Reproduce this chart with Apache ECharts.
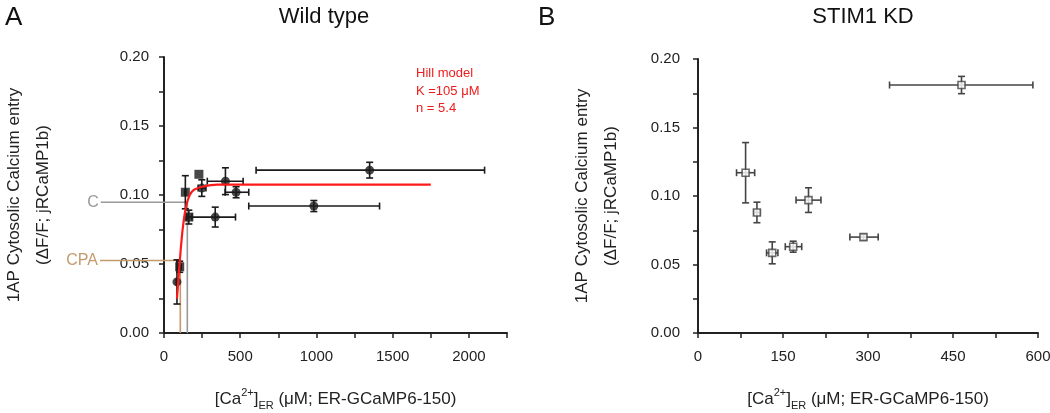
<!DOCTYPE html>
<html>
<head>
<meta charset="utf-8">
<script src="https://cdn.jsdelivr.net/npm/echarts@6/dist/echarts.min.js"></script>
<style>
html,body{margin:0;padding:0;background:#fff;}
#chart{width:1050px;height:413px;}
</style>
</head>
<body>
<div id="chart"></div>
<script>
// ---------- Panel A: Wild type ----------
const wtX    = [85, 103, 140, 163, 229, 248, 336, 403, 473, 983, 1349];
const wtY    = [0.037, 0.048, 0.102, 0.084, 0.115, 0.105, 0.084, 0.110, 0.102, 0.092, 0.118];
const wtXLo  = [80, 93, 136, 145, 229, 224, 150, 284, 401, 556, 604];
const wtXHi  = [90, 113, 144, 183, 229, 275, 469, 519, 556, 1414, 2103];
const wtYErr = [0.016, 0.004, 0.012, 0.005, 0, 0.006, 0.0072, 0.0097, 0.004, 0.004, 0.0057];
const wtShape = ['circle','rect','rect','rect','rect','circle','circle','circle','circle','circle','circle'];

// Hill model curve
const hillX = [85, 90, 95, 100, 105, 110, 115, 120, 130, 140, 150, 165, 180, 200, 250, 350, 1750];
const hillY = [0.025, 0.032, 0.040, 0.047, 0.054, 0.061, 0.067, 0.073, 0.082, 0.089, 0.094, 0.099, 0.102, 0.104, 0.106, 0.1075, 0.1075];

// reference lines C and CPA (x, y)
const refNames = ['C', 'CPA'];
const cLineX = [-415, 153, 153];
const cLineY = [0.0947, 0.0947, 0];
const cpaLineX = [-420, 107, 107];
const cpaLineY = [0.0525, 0.0525, 0];

// ---------- Panel B: STIM1 KD ----------
const kdX    = [84, 104, 131, 168, 195, 292, 465];
const kdY    = [0.117, 0.088, 0.0585, 0.063, 0.097, 0.070, 0.181];
const kdXLo  = [68, 99, 121, 154, 173, 268, 338];
const kdXHi  = [100, 109, 141, 183, 217, 318, 591];
const kdYErr = [0.022, 0.0075, 0.008, 0.004, 0.009, 0.002, 0.0063];

// ticks
const yTickLabels = ['0.00','0.05','0.10','0.15','0.20'];
const xTickLabelsA = ['0','500','1000','1500','2000'];
const xTickLabelsB = ['0','150','300','450','600'];

const FONT = 'Liberation Sans, Arial, sans-serif';
const AXIS_COLOR = '#222';
const refX = [cLineX, cpaLineX];
const refY = [cLineY, cpaLineY];
const refColors = ['#9a9a9a', '#c49a6c'];

function errData(xs, ys, lo, hi, ye) {
  return xs.map((x, i) => [x, ys[i], lo[i], hi[i], ys[i] - ye[i], ys[i] + ye[i]]);
}

function errRender(color) {
  return function (params, api) {
    const x = api.value(0), y = api.value(1);
    const pL = api.coord([api.value(2), y]);
    const pR = api.coord([api.value(3), y]);
    const pB = api.coord([x, api.value(4)]);
    const pT = api.coord([x, api.value(5)]);
    const c = 3.5;
    const st = { stroke: color, lineWidth: 1.6 };
    const children = [];
    if (Math.abs(pR[0] - pL[0]) > 1) {
      children.push({ type: 'line', shape: { x1: pL[0], y1: pL[1], x2: pR[0], y2: pR[1] }, style: st });
      children.push({ type: 'line', shape: { x1: pL[0], y1: pL[1] - c, x2: pL[0], y2: pL[1] + c }, style: st });
      children.push({ type: 'line', shape: { x1: pR[0], y1: pR[1] - c, x2: pR[0], y2: pR[1] + c }, style: st });
    }
    if (Math.abs(pB[1] - pT[1]) > 1) {
      children.push({ type: 'line', shape: { x1: pB[0], y1: pB[1], x2: pT[0], y2: pT[1] }, style: st });
      children.push({ type: 'line', shape: { x1: pB[0] - c, y1: pB[1], x2: pB[0] + c, y2: pB[1] }, style: st });
      children.push({ type: 'line', shape: { x1: pT[0] - c, y1: pT[1], x2: pT[0] + c, y2: pT[1] }, style: st });
    }
    return { type: 'group', children: children };
  };
}

function refRender(params, api) {
  const i = params.dataIndex;
  const pts = refX[i].map((x, j) => api.coord([x, refY[i][j]]));
  return {
    type: 'group',
    children: [
      { type: 'polyline', shape: { points: pts }, style: { stroke: refColors[i], lineWidth: 1.6, fill: null } },
      { type: 'text', style: { text: refNames[i], x: pts[0][0] - 2, y: pts[0][1], align: 'right', verticalAlign: 'middle',
          font: '16px ' + FONT, fill: refColors[i] } }
    ]
  };
}

function fmtY(v) {
  const k = Math.round(v * 1000);
  return (k % 50 === 0) ? yTickLabels[k / 50] : '';
}
function fmtXA(v) {
  const r = Math.round(v);
  return (r % 500 === 0) ? xTickLabelsA[r / 500] : '';
}
function fmtXB(v) {
  const r = Math.round(v);
  return (r % 150 === 0) ? xTickLabelsB[r / 150] : '';
}

const axisCommon = {
  axisLine: { show: true, onZero: false, lineStyle: { color: AXIS_COLOR, width: 2 } },
  axisTick: { show: true, inside: false, length: 5, lineStyle: { color: AXIS_COLOR, width: 1.5 } },
  splitLine: { show: false },
};

const xName = '{a|[Ca}{sup|2+}{a|]}{sub|ER}{a| (μM; ER-GCaMP6-150)}';
const xNameStyle = {
  fontFamily: FONT, color: '#222',
  rich: {
    a: { fontSize: 17, fontFamily: FONT, color: '#222', lineHeight: 24 },
    sup: { fontSize: 11, fontFamily: FONT, color: '#222', verticalAlign: 'top', lineHeight: 10 },
    sub: { fontSize: 11, fontFamily: FONT, color: '#222', verticalAlign: 'bottom', lineHeight: 10 }
  }
};
const yName = '1AP Cytosolic Calcium entry\n(ΔF/F; jRCaMP1b)';
const yNameStyle = { fontFamily: FONT, fontSize: 17, color: '#222', lineHeight: 29 };

const labelStyle = { fontFamily: FONT, fontSize: 15, color: '#222' };

const option = {
  animation: false,
  backgroundColor: '#fff',
  title: [
    { text: 'A', left: 0, top: 0, textStyle: { fontFamily: FONT, fontSize: 26, fontWeight: 'normal', color: '#111' } },
    { text: 'Wild type', left: 319, top: 1, textAlign: 'center', textStyle: { fontFamily: FONT, fontSize: 22, fontWeight: 'normal', color: '#111' } },
    { text: 'B', left: 533, top: 0, textStyle: { fontFamily: FONT, fontSize: 26, fontWeight: 'normal', color: '#111' } },
    { text: 'STIM1 KD', left: 858, top: 1, textAlign: 'center', textStyle: { fontFamily: FONT, fontSize: 22, fontWeight: 'normal', color: '#111' } },
    { text: 'Hill model\nK =105 μM\nn = 5.4', left: 411, top: 60, textStyle: { fontFamily: FONT, fontSize: 13, fontWeight: 'normal', color: '#ee1c1c', lineHeight: 17.5 } }
  ],
  grid: [
    { left: 164, top: 57, width: 343, height: 276, outerBoundsMode: 'none', containLabel: false },
    { left: 698, top: 59, width: 340, height: 274, outerBoundsMode: 'none', containLabel: false }
  ],
  xAxis: [
    Object.assign({}, axisCommon, {
      gridIndex: 0, type: 'value', min: 0, max: 2250, interval: 250,
      axisLabel: Object.assign({ margin: 16, formatter: fmtXA, showMaxLabel: true }, labelStyle),
      name: xName, nameLocation: 'middle', nameGap: 54, nameTextStyle: xNameStyle
    }),
    Object.assign({}, axisCommon, {
      gridIndex: 1, type: 'value', min: 0, max: 600, interval: 75,
      axisLabel: Object.assign({ margin: 16, formatter: fmtXB, showMaxLabel: true }, labelStyle),
      name: xName, nameLocation: 'middle', nameGap: 54, nameTextStyle: xNameStyle
    })
  ],
  yAxis: [
    Object.assign({}, axisCommon, {
      gridIndex: 0, type: 'value', min: 0, max: 0.2, interval: 0.025,
      axisLabel: Object.assign({ margin: 15, formatter: fmtY }, labelStyle),
      name: yName, nameLocation: 'middle', nameGap: 106, nameTextStyle: yNameStyle
    }),
    Object.assign({}, axisCommon, {
      gridIndex: 1, type: 'value', min: 0, max: 0.2, interval: 0.025,
      axisLabel: Object.assign({ margin: 18, formatter: fmtY }, labelStyle),
      name: yName, nameLocation: 'middle', nameGap: 72, nameTextStyle: yNameStyle
    })
  ],
  series: [
    {
      type: 'custom', xAxisIndex: 0, yAxisIndex: 0, z: 1, clip: false,
      renderItem: refRender,
      encode: { x: 0, y: 1 },
      data: [[cLineX[1], cLineY[1]], [cpaLineX[1], cpaLineY[1]]]
    },
    {
      type: 'custom', xAxisIndex: 0, yAxisIndex: 0, z: 2,
      renderItem: errRender('#1a1a1a'),
      encode: { x: 0, y: 1 },
      data: errData(wtX, wtY, wtXLo, wtXHi, wtYErr)
    },
    {
      type: 'scatter', xAxisIndex: 0, yAxisIndex: 0, z: 3,
      itemStyle: { color: '#1a1a1a' },
      data: wtX.map((x, i) => ({ value: [x, wtY[i]], symbol: wtShape[i], symbolSize: 9 }))
    },
    {
      type: 'line', xAxisIndex: 0, yAxisIndex: 0, z: 4, symbol: 'none', smooth: 0.2,
      lineStyle: { color: '#ff1a1a', width: 2.2 },
      data: hillX.map((x, i) => [x, hillY[i]])
    },
    {
      type: 'custom', xAxisIndex: 1, yAxisIndex: 1, z: 2,
      renderItem: errRender('#444'),
      encode: { x: 0, y: 1 },
      data: errData(kdX, kdY, kdXLo, kdXHi, kdYErr)
    },
    {
      type: 'scatter', xAxisIndex: 1, yAxisIndex: 1, z: 3,
      symbol: 'rect', symbolSize: 7,
      itemStyle: { color: '#fff', borderColor: '#444', borderWidth: 1.6 },
      data: kdX.map((x, i) => [x, kdY[i]])
    }
  ]
};

const chart = echarts.init(document.getElementById('chart'), null, { renderer: 'canvas' });
chart.setOption(option);
</script>
</body>
</html>
